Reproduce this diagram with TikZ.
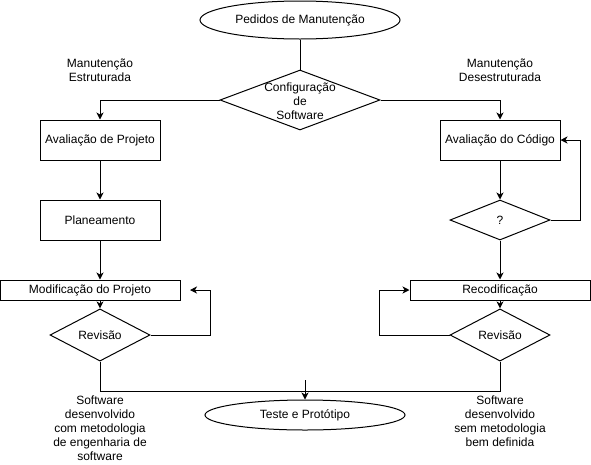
\documentclass[tikz,border=0pt]{standalone}
\usepackage{fontspec}
\setmainfont{Liberation Sans}
\usetikzlibrary{shapes.geometric,arrows.meta}
\begin{document}
\begin{tikzpicture}[x=1pt,y=-1pt,
  every node/.style={font=\fontsize{12}{14}\selectfont, inner sep=0pt},
  box/.style={draw, line width=1pt, rectangle},
  ell/.style={draw, line width=1pt, ellipse},
  diam/.style={draw, line width=1pt, diamond},
  lbl/.style={align=center},
  arr/.style={line width=1pt, -{Stealth[length=7pt,width=7pt,inset=2pt]}},
  ln/.style={line width=1pt}]
\useasboundingbox (0,0) rectangle (591,464);
% nodes
\node[ell, minimum width=200pt, minimum height=38pt] (ped) at (300,20) {Pedidos de Manutenção};
\node[diam, minimum width=160pt, minimum height=60pt] (cfg) at (300,100) {};
\node[lbl] (cfgt) at (300,101) {Configuração\\de\\Software};
\node[box, minimum width=120pt, minimum height=40pt] (avp) at (100,140) {Avaliação de Projeto};
\node[box, minimum width=120pt, minimum height=40pt] (plan) at (100,220) {Planeamento};
\node[box, minimum width=180pt, minimum height=20pt] (mod) at (90,290) {Modificação do Projeto};
\node[diam, minimum width=100pt, minimum height=30pt] (rev1) at (100,335) {Revisão};
\node[box, minimum width=120pt, minimum height=40pt] (avc) at (500,140) {Avaliação do Código};
\node[diam, minimum width=100pt, minimum height=40pt] (q) at (500,220) {?};
\node[box, minimum width=180pt, minimum height=20pt] (rec) at (500,290) {Recodificação};
\node[diam, minimum width=100pt, minimum height=30pt] (rev2) at (500,335) {Revisão};
\node[ell, minimum width=200pt, minimum height=30pt] (test) at (305,415) {Teste e Protótipo};
% labels
\node[lbl] (l1) at (100,70) {Manutenção\\Estruturada};
\node[lbl] (l2) at (500,70) {Manutenção\\Desestruturada};
\node[lbl] (l3) at (100,428) {Software\\desenvolvido\\com metodologia\\de engenharia de\\software};
\node[lbl] (l4) at (500,421) {Software\\desenvolvido\\sem metodologia\\bem definida};
% coordinates
\coordinate (m1end) at (190,290);
\coordinate (join) at (305,380);
% connectors
\draw[ln] (ped.south) -- (cfg.north);
\draw[arr] (cfg.west) -| (avp.north);
\draw[arr] (cfg.east) -| (avc.north);
\draw[arr] (avp) -- (plan);
\draw[arr] (plan) -- (mod.north -| plan);
\draw[arr] (mod.south -| rev1) -- (rev1.north);
\draw[arr] (rev1.east) -- ++(60,0) |- (m1end);
\draw[arr] (avc) -- (q);
\draw[arr] (q.east) -- ++(30,0) |- (avc.east);
\draw[arr] (q) -- (rec);
\draw[arr] (rec) -- (rev2);
\draw[arr] (rev2.west) -- ++(-70,0) |- (rec.west);
\draw[ln] (rev1.south) -- ++(0,30) -| (rev2.south);
\draw[arr] (join) -- (test.north);
\end{tikzpicture}
\end{document}
